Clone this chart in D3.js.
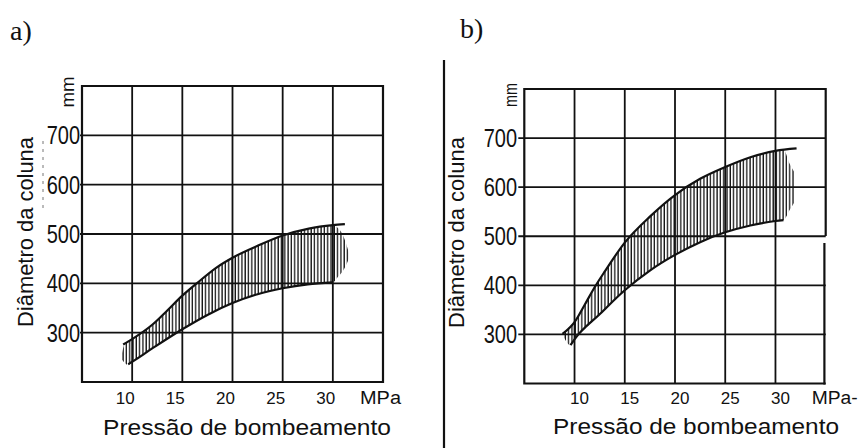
<!DOCTYPE html>
<html>
<head>
<meta charset="utf-8">
<script src="https://cdn.jsdelivr.net/npm/d3@7"></script>
<style>
  html, body { margin: 0; padding: 0; background: #fff; }
  svg { display: block; }
  text { font-family: "Liberation Sans", Arial, Helvetica, sans-serif; fill: #111; }
</style>
</head>
<body>
<svg id="chart" width="859" height="448"></svg>
<script>
// Axis ticks and domains shared by both diagrams
const pressureTicks = [10, 15, 20, 25, 30];
const diameterTicks = [300, 400, 500, 600, 700];
const pressureDomain = [5, 35];
const diameterDomain = [200, 800];

// a) boundary curves (MPa, mm)
const aUpperX = [9.1, 10, 12, 13.5, 15, 16.5, 18.4, 20, 22.6, 25, 27.6, 30, 31.2];
const aUpperY = [276, 287, 316, 345, 375, 401, 432, 452, 477, 497, 511, 518, 520];
const aLowerX = [9.6, 10, 12, 15, 17.5, 20, 22.5, 25, 27.5, 30];
const aLowerY = [236, 241, 268, 307, 336, 360, 378, 390, 398, 402];
// a) hatched band
const aHatchX      = [8.95, 9.3, 9.6, 10, 12, 13.5, 15, 16.5, 18.4, 20, 22.6, 25, 27.6, 30, 30.5, 31, 31.3, 31.6];
const aHatchTop    = [254, 279, 282, 287, 316, 345, 375, 401, 432, 452, 477, 497, 511, 518, 512, 498, 482, 462];
const aHatchBottom = [246, 238, 234, 241, 268, 288, 307, 324, 345, 360, 378, 390, 398, 402, 413, 425, 436, 450];

// b) boundary curves (MPa, mm)
const bUpperX = [8.8, 10, 11, 12, 13, 15, 17.5, 20, 22.5, 25, 27.5, 30, 32.1];
const bUpperY = [301, 325, 360, 396, 428, 487, 540, 584, 617, 641, 661, 674, 679];
const bLowerX = [9.6, 10, 12.5, 15, 17.5, 20, 22.5, 25, 27.5, 30, 30.8];
const bLowerY = [278, 290, 341, 390, 430, 462, 488, 508, 522, 531, 533];
// b) hatched band
const bHatchX      = [8.9, 9.6, 10, 11, 12, 13, 15, 17.5, 20, 22.5, 25, 27.5, 30, 30.8, 31.4, 31.9];
const bHatchTop    = [298, 318, 325, 360, 396, 428, 487, 540, 584, 617, 641, 661, 674, 676, 648, 630];
const bHatchBottom = [296, 278, 290, 311, 331, 351, 390, 430, 462, 488, 508, 522, 531, 533, 553, 570];

const xTitle = "Pressão de bombeamento";
const yTitle = "Diâmetro da coluna";

const panels = [
  {
    tag: "a)", tagX: 10, tagY: 40,
    x0: 82, x1: 383, y0: 86, y1: 382,
    tickOut: 2, yLabelRight: 80, xTickDx: -7, xTickBase: 403.5,
    unit: "MPa", unitX: 360, unitLen: 41,
    xTitleX: 103, xTitleBase: 435, xTitleLen: 288,
    yTitleX: 33, yTitleY: 232, yTitleLen: 190,
    mmX: 74, mmY: 92, mmLen: 31,
    upperX: aUpperX, upperY: aUpperY, lowerX: aLowerX, lowerY: aLowerY,
    hatchX: aHatchX, hatchTop: aHatchTop, hatchBottom: aHatchBottom,
    rightBreak: null
  },
  {
    tag: "b)", tagX: 460, tagY: 38,
    x0: 524.3, x1: 825.7, y0: 89, y1: 383.5,
    tickOut: 6, yLabelRight: 517, xTickDx: 5, xTickBase: 404,
    unit: "MPa-", unitX: 811.7, unitLen: 46,
    xTitleX: 553, xTitleBase: 434, xTitleLen: 286,
    yTitleX: 464, yTitleY: 232.5, yTitleLen: 191,
    mmX: 517, mmY: 95, mmLen: 24,
    upperX: bUpperX, upperY: bUpperY, lowerX: bLowerX, lowerY: bLowerY,
    hatchX: bHatchX, hatchTop: bHatchTop, hatchBottom: bHatchBottom,
    rightBreak: [236, 243]
  }
];

const svg = d3.select("#chart");
const defs = svg.append("defs");

// vertical hatching texture
defs.append("pattern")
  .attr("id", "vhatch")
  .attr("patternUnits", "userSpaceOnUse")
  .attr("width", 3.3).attr("height", 10)
  .append("line")
  .attr("x1", 1).attr("x2", 1).attr("y1", 0).attr("y2", 10)
  .attr("stroke", "#111").attr("stroke-width", 1.3);

// divider between the two diagrams
svg.append("line")
  .attr("x1", 444).attr("x2", 444).attr("y1", 60).attr("y2", 448)
  .attr("stroke", "#111").attr("stroke-width", 2.2);

panels.forEach(p => {
  const xs = d3.scaleLinear().domain(pressureDomain).range([p.x0, p.x1]);
  const ys = d3.scaleLinear().domain(diameterDomain).range([p.y1, p.y0]);
  const g = svg.append("g");

  // panel tag
  svg.append("text")
    .attr("x", p.tagX).attr("y", p.tagY)
    .style("font-family", '"Liberation Serif", "Times New Roman", serif')
    .style("font-size", "28px")
    .text(p.tag);

  // grid
  g.selectAll("line.vg").data(pressureTicks).join("line")
    .attr("class", "vg")
    .attr("x1", d => xs(d)).attr("x2", d => xs(d))
    .attr("y1", p.y0).attr("y2", p.y1)
    .attr("stroke", "#111").attr("stroke-width", 1.8);
  g.selectAll("line.hg").data(diameterTicks).join("line")
    .attr("class", "hg")
    .attr("x1", p.x0 - p.tickOut).attr("x2", p.x1)
    .attr("y1", d => ys(d)).attr("y2", d => ys(d))
    .attr("stroke", "#111").attr("stroke-width", 1.8);

  // hatched band
  const hatch = p.hatchX.map((x, k) => ({ x, top: p.hatchTop[k], bottom: p.hatchBottom[k] }));
  const area = d3.area()
    .x(d => xs(d.x)).y0(d => ys(d.bottom)).y1(d => ys(d.top))
    .curve(d3.curveMonotoneX);
  g.append("path")
    .attr("d", area(hatch))
    .attr("fill", "url(#vhatch)");

  // band boundaries
  const line = d3.line().x(d => xs(d[0])).y(d => ys(d[1]))
    .curve(d3.curveMonotoneX);
  g.append("path")
    .attr("d", line(p.upperX.map((x, k) => [x, p.upperY[k]])))
    .attr("fill", "none").attr("stroke", "#111").attr("stroke-width", 2.2);
  g.append("path")
    .attr("d", line(p.lowerX.map((x, k) => [x, p.lowerY[k]])))
    .attr("fill", "none").attr("stroke", "#111").attr("stroke-width", 2.2);

  // frame
  const fr = g.append("g").attr("stroke", "#111").attr("stroke-width", 2.2).attr("fill", "none");
  fr.append("path").attr("d", `M${p.x1},${p.y0}H${p.x0}V${p.y1}H${p.x1}`);
  if (p.rightBreak) {
    fr.append("line").attr("x1", p.x1).attr("x2", p.x1).attr("y1", p.y0 - 1).attr("y2", p.rightBreak[0]);
    fr.append("line").attr("x1", p.x1 - 1.3).attr("x2", p.x1 - 1.3).attr("y1", p.rightBreak[1]).attr("y2", p.y1 + 1);
  } else {
    fr.append("line").attr("x1", p.x1).attr("x2", p.x1).attr("y1", p.y0 - 1).attr("y2", p.y1 + 1);
  }

  // y tick labels
  g.selectAll("text.yt").data(diameterTicks).join("text")
    .attr("class", "yt")
    .attr("text-anchor", "end")
    .attr("dy", "0.36em")
    .attr("transform", d => `translate(${p.yLabelRight},${ys(d)}) scale(0.8,1)`)
    .style("font-size", "25px")
    .text(d => d);

  // x tick labels
  g.selectAll("text.xt").data(pressureTicks).join("text")
    .attr("class", "xt")
    .attr("text-anchor", "middle")
    .attr("x", d => xs(d) + p.xTickDx)
    .attr("y", p.xTickBase)
    .style("font-size", "17px")
    .text(d => d);
  g.append("text")
    .attr("x", p.unitX).attr("y", p.xTickBase)
    .attr("textLength", p.unitLen).attr("lengthAdjust", "spacingAndGlyphs")
    .style("font-size", "18px")
    .text(p.unit);

  // axis titles
  g.append("text")
    .attr("x", p.xTitleX).attr("y", p.xTitleBase)
    .attr("textLength", p.xTitleLen).attr("lengthAdjust", "spacingAndGlyphs")
    .style("font-size", "22px")
    .text(xTitle);
  g.append("text")
    .attr("transform", `translate(${p.yTitleX},${p.yTitleY}) rotate(-90)`)
    .attr("text-anchor", "middle")
    .attr("textLength", p.yTitleLen).attr("lengthAdjust", "spacingAndGlyphs")
    .style("font-size", "22px")
    .text(yTitle);
  g.append("text")
    .attr("transform", `translate(${p.mmX},${p.mmY}) rotate(-90)`)
    .attr("text-anchor", "middle")
    .attr("textLength", p.mmLen).attr("lengthAdjust", "spacingAndGlyphs")
    .style("font-size", "19px")
    .text("mm");
});

// faint dotted guide left of the a) scale
svg.append("line")
  .attr("x1", 43).attr("x2", 43).attr("y1", 141).attr("y2", 210)
  .attr("stroke", "#777").attr("stroke-width", 1)
  .attr("stroke-dasharray", "3,5");
</script>
</body>
</html>
